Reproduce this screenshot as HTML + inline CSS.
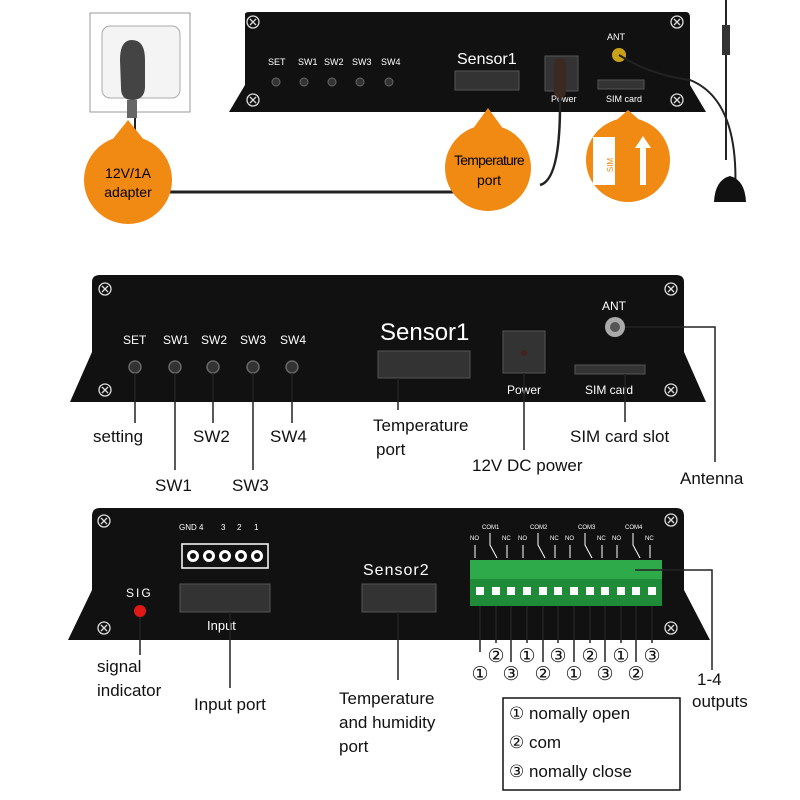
<!DOCTYPE html><html><head><style>body{margin:0;background:#fff}svg{display:block}text{font-family:"Liberation Sans",sans-serif}</style></head><body>
<svg width="800" height="800" viewBox="0 0 800 800" xmlns="http://www.w3.org/2000/svg">
<defs>
<g id="scr"><circle r="6" fill="#111" stroke="#ddd" stroke-width="1.3"/><path d="M-3,-3L3,3M3,-3L-3,3" stroke="#ddd" stroke-width="1.3"/></g>
</defs>
<!-- TOP -->
<rect x="90" y="13" width="100" height="99" fill="#fff" stroke="#999"/>
<rect x="102" y="26" width="78" height="72" rx="8" fill="#f4f4f4" stroke="#aaa"/>
<path d="M120,60 Q120,40 132,40 Q145,40 145,60 L145,88 Q144,100 132,100 Q121,100 121,88Z" fill="#444"/>
<rect x="127" y="100" width="10" height="18" fill="#666"/>
<path d="M135,118 L135,130" stroke="#222" stroke-width="2"/>
<path d="M229,112 L245,85 L245,14 Q245,12 250,12 L686,12 Q690,12 690,18 L690,85 L706,112Z" fill="#111"/>
<use href="#scr" x="253" y="22"/><use href="#scr" x="677" y="22"/><use href="#scr" x="253" y="100"/><use href="#scr" x="677" y="100"/>
<g fill="#fff" font-size="9"><text x="268" y="65">SET</text><text x="298" y="65">SW1</text><text x="324" y="65">SW2</text><text x="352" y="65">SW3</text><text x="381" y="65">SW4</text><text x="607" y="40" font-size="9">ANT</text><text x="551" y="102" font-size="9">Power</text><text x="606" y="102" font-size="9">SIM card</text></g>
<g fill="#333" stroke="#666"><circle cx="276" cy="82" r="4"/><circle cx="304" cy="82" r="4"/><circle cx="332" cy="82" r="4"/><circle cx="360" cy="82" r="4"/><circle cx="389" cy="82" r="4"/></g>
<text x="457" y="64" fill="#fff" font-size="16">Sensor1</text>
<rect x="455" y="71" width="64" height="19" fill="#333" stroke="#555"/>
<rect x="545" y="56" width="33" height="35" fill="#333" stroke="#555"/>
<rect x="598" y="80" width="46" height="9" fill="#333" stroke="#555"/>
<circle cx="619" cy="55" r="7" fill="#c9a21a"/>
<path d="M619,55 Q650,75 690,80 Q740,100 735,195" fill="none" stroke="#222" stroke-width="2"/>
<path d="M560,60 L560,105 Q560,180 540,185" fill="none" stroke="#222" stroke-width="2.5"/>
<rect x="554" y="58" width="12" height="40" rx="6" fill="#3a2a22"/>
<path d="M726,0 L726,160" stroke="#222" stroke-width="2"/>
<rect x="722" y="25" width="8" height="30" fill="#333"/>
<path d="M714,202 Q715,180 730,176 Q745,180 746,202Z" fill="#111"/>
<path d="M170,192 L460,192" stroke="#222" stroke-width="3"/>
<g fill="#f08a12">
<circle cx="128" cy="180" r="44"/><path d="M112,140 L128,120 L144,140Z"/>
<circle cx="488" cy="168" r="43"/><path d="M472,130 L488,108 L504,130Z"/>
<circle cx="628" cy="160" r="42"/><path d="M612,124 L628,110 L644,124Z"/>
</g>
<text x="128" y="178" font-size="14" text-anchor="middle">12V/1A</text><text x="128" y="197" font-size="14" text-anchor="middle">adapter</text>
<text x="489" y="165" font-size="14" text-anchor="middle" letter-spacing="-0.8">Temperature</text><text x="489" y="185" font-size="14" text-anchor="middle">port</text>
<rect x="593" y="137" width="22" height="48" fill="#fff"/>
<text x="608" y="170" font-size="8" fill="#f08a12" transform="rotate(-90 608 165)" text-anchor="middle">SIM</text>
<path d="M640,185 L640,148 L635,148 L643,136 L651,148 L646,148 L646,185Z" fill="#fff"/>
<!-- MIDDLE -->
<path d="M70,402 L92,352 L92,282 Q92,275 100,275 L676,275 Q684,275 684,282 L684,352 L706,402Z" fill="#111"/>
<use href="#scr" x="105" y="289"/><use href="#scr" x="671" y="289"/><use href="#scr" x="105" y="390"/><use href="#scr" x="671" y="390"/>
<g fill="#fff" font-size="12"><text x="123" y="344">SET</text><text x="163" y="344">SW1</text><text x="201" y="344">SW2</text><text x="240" y="344">SW3</text><text x="280" y="344">SW4</text><text x="602" y="310">ANT</text><text x="507" y="394">Power</text><text x="585" y="394">SIM card</text></g>
<g fill="#333" stroke="#666" stroke-width="1.5"><circle cx="135" cy="367" r="6"/><circle cx="175" cy="367" r="6"/><circle cx="213" cy="367" r="6"/><circle cx="253" cy="367" r="6"/><circle cx="292" cy="367" r="6"/></g>
<text x="380" y="340" fill="#fff" font-size="24">Sensor1</text>
<rect x="378" y="351" width="92" height="27" fill="#333" stroke="#555"/>
<rect x="503" y="331" width="42" height="42" fill="#333" stroke="#555"/><circle cx="524" cy="353" r="3" fill="#422"/>
<rect x="575" y="365" width="70" height="9" fill="#333" stroke="#555"/>
<circle cx="615" cy="327" r="10" fill="#aaa"/><circle cx="615" cy="327" r="5" fill="#555"/>
<g stroke="#222" stroke-width="1.5" fill="none">
<path d="M135,373V423M175,373V470M213,373V423M253,373V470M292,373V423M398,378V410M524,373V450M625,374V422M625,327H715V462"/>
</g>
<g font-size="17" fill="#111"><text x="93" y="442">setting</text><text x="155" y="491">SW1</text><text x="193" y="442">SW2</text><text x="232" y="491">SW3</text><text x="270" y="442">SW4</text><text x="373" y="431">Temperature</text><text x="376" y="455">port</text><text x="472" y="471">12V DC power</text><text x="570" y="442">SIM card slot</text><text x="680" y="484">Antenna</text></g>
<!-- BOTTOM -->
<path d="M68,640 L92,590 L92,516 Q92,508 100,508 L676,508 Q684,508 684,516 L684,590 L710,640Z" fill="#111"/>
<use href="#scr" x="104" y="521"/><use href="#scr" x="671" y="520"/><use href="#scr" x="104" y="628"/><use href="#scr" x="671" y="628"/>
<g fill="#fff" font-size="8"><text x="179" y="530">GND 4</text><text x="221" y="530">3</text><text x="237" y="530">2</text><text x="254" y="530">1</text></g>
<rect x="182" y="544" width="86" height="24" fill="#111" stroke="#fff" stroke-width="1.5"/>
<g fill="#fff"><circle cx="193" cy="556" r="6"/><circle cx="209" cy="556" r="6"/><circle cx="225" cy="556" r="6"/><circle cx="241" cy="556" r="6"/><circle cx="257" cy="556" r="6"/></g>
<g fill="#111"><circle cx="193" cy="556" r="3"/><circle cx="209" cy="556" r="3"/><circle cx="225" cy="556" r="3"/><circle cx="241" cy="556" r="3"/><circle cx="257" cy="556" r="3"/></g>
<text x="126" y="597" fill="#fff" font-size="12" letter-spacing="2">SIG</text>
<circle cx="140" cy="611" r="6" fill="#e01818"/>
<rect x="180" y="584" width="90" height="28" fill="#333" stroke="#555"/>
<text x="207" y="630" fill="#fff" font-size="13">Input</text>
<text x="363" y="575" fill="#fff" font-size="16" letter-spacing="1">Sensor2</text>
<rect x="362" y="584" width="74" height="28" fill="#333" stroke="#555"/>
<rect x="470" y="560" width="192" height="19" fill="#2eaa4a"/>
<rect x="470" y="579" width="192" height="27" fill="#1f8a38"/>
<g fill="#fff">
<rect x="476" y="587" width="8" height="8"/><rect x="492" y="587" width="8" height="8"/><rect x="507" y="587" width="8" height="8"/><rect x="523" y="587" width="8" height="8"/><rect x="539" y="587" width="8" height="8"/><rect x="554" y="587" width="8" height="8"/><rect x="570" y="587" width="8" height="8"/><rect x="586" y="587" width="8" height="8"/><rect x="601" y="587" width="8" height="8"/><rect x="617" y="587" width="8" height="8"/><rect x="632" y="587" width="8" height="8"/><rect x="648" y="587" width="8" height="8"/>
</g>
<g fill="#fff" font-size="6"><text x="470" y="540">NO</text><text x="482" y="529">COM1</text><text x="502" y="540">NC</text><text x="518" y="540">NO</text><text x="530" y="529">COM2</text><text x="550" y="540">NC</text><text x="565" y="540">NO</text><text x="578" y="529">COM3</text><text x="597" y="540">NC</text><text x="612" y="540">NO</text><text x="625" y="529">COM4</text><text x="645" y="540">NC</text></g>
<g stroke="#fff" stroke-width="1" fill="none"><path d="M475,545V558M507,545V558M523,545V558M555,545V558M570,545V558M602,545V558M617,545V558M650,545V558M490,533V545L497,558M538,533V545L545,558M585,533V545L592,558M633,533V545L640,558"/></g>
<g stroke="#222" stroke-width="1.5" fill="none"><path d="M140,617V655M230,612V688M398,612V680M480,606V652M496,606V643M511,606V662M527,606V643M543,606V662M558,606V643M574,606V662M590,606V643M605,606V662M621,606V643M636,606V662M652,606V643M635,570H712V670"/></g>
<g font-size="19" fill="#111" text-anchor="middle">
<text x="480" y="680">①</text><text x="496" y="662">②</text><text x="511" y="680">③</text><text x="527" y="662">①</text><text x="543" y="680">②</text><text x="558" y="662">③</text><text x="574" y="680">①</text><text x="590" y="662">②</text><text x="605" y="680">③</text><text x="621" y="662">①</text><text x="636" y="680">②</text><text x="652" y="662">③</text></g>
<g font-size="17" fill="#111"><text x="97" y="672">signal</text><text x="97" y="696">indicator</text><text x="194" y="710">Input port</text><text x="339" y="704">Temperature</text><text x="339" y="728">and humidity</text><text x="339" y="752">port</text><text x="697" y="685">1-4</text><text x="692" y="707">outputs</text></g>
<rect x="503" y="698" width="177" height="92" fill="#fff" stroke="#111" stroke-width="1.5"/>
<g font-size="17" fill="#111"><text x="509" y="719">①  nomally open</text><text x="509" y="748">②  com</text><text x="509" y="777">③  nomally close</text></g>
</svg>
</body></html>
